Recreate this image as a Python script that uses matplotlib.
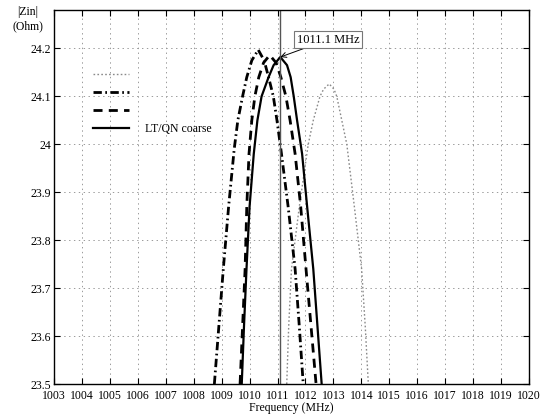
import matplotlib
matplotlib.use("Agg")
import matplotlib.pyplot as plt
from matplotlib.ticker import FuncFormatter

plt.rcParams["font.family"] = ["Liberation Serif", "DejaVu Serif"]
plt.rcParams["font.size"] = 8
plt.rcParams["lines.scale_dashes"] = False

# -------------------------------------------------
# data (frequency MHz, |Zin| Ohm)
# -------------------------------------------------
f_dot = [1011.33, 1011.4, 1011.5, 1011.78, 1012.1, 1012.28, 1012.52, 1012.65, 1012.85,
         1013.02, 1013.12, 1013.3, 1013.48, 1013.75, 1014.01, 1014.14, 1014.25]
z_dot = [23.5, 23.62, 23.74, 23.87, 24.0, 24.05, 24.1, 24.115, 24.126,
         24.115, 24.1, 24.05, 24.0, 23.87, 23.74, 23.62, 23.5]

f_dashdot = [1008.74, 1008.9, 1009.06, 1009.25, 1009.45, 1009.58, 1009.75, 1009.9, 1010.08, 1010.31,
             1010.52, 1010.68, 1010.85, 1010.98, 1011.12, 1011.38, 1011.63, 1011.78, 1011.92]
z_dashdot = [23.5, 23.62, 23.74, 23.87, 23.99, 24.05, 24.1, 24.14, 24.175, 24.197,
             24.175, 24.14, 24.1, 24.05, 23.99, 23.87, 23.74, 23.62, 23.5]

f_dash = [1009.66, 1009.75, 1009.84, 1009.9, 1009.98, 1010.08, 1010.19, 1010.33, 1010.5, 1010.72,
          1010.95, 1011.12, 1011.3, 1011.45, 1011.63, 1011.83, 1012.02, 1012.2, 1012.38]
z_dash = [23.5, 23.62, 23.74, 23.87, 23.98, 24.05, 24.1, 24.14, 24.17, 24.186,
          24.17, 24.14, 24.1, 24.05, 23.98, 23.87, 23.74, 23.62, 23.5]

f_lt = [1009.72, 1009.8, 1009.89, 1010.0, 1010.15, 1010.28, 1010.43, 1010.68, 1010.86, 1011.1,
        1011.34, 1011.47, 1011.58, 1011.7, 1011.88, 1012.06, 1012.28, 1012.43, 1012.58]
z_lt = [23.5, 23.62, 23.74, 23.87, 23.98, 24.05, 24.1, 24.14, 24.165, 24.182,
        24.165, 24.14, 24.1, 24.05, 23.98, 23.87, 23.74, 23.62, 23.5]

f_mark = 1011.1
z_mark = 24.182
mark_text = "1011.1 MHz"

xticks = list(range(1003, 1021))
yticks = [23.5, 23.6, 23.7, 23.8, 23.9, 24.0, 24.1, 24.2]

# -------------------------------------------------
# figure
# -------------------------------------------------
fig = plt.figure(figsize=(5.53, 4.19), dpi=100)
ax = fig.add_axes([0.0976, 0.0835, 0.859, 0.8925])

ax.plot(f_dot, z_dot, color="#8a8a8a", lw=1.0, dashes=(1.2, 1.6), label=" ")
ax.plot(f_dashdot, z_dashdot, color="black", lw=2.0, dashes=(6, 2.5, 1.2, 2.5), label=" ")
ax.plot(f_dash, z_dash, color="black", lw=2.0, dashes=(6.5, 4.5), label=" ")
ax.plot(f_lt, z_lt, color="black", lw=1.6, label="LT/QN coarse")

ax.axvline(f_mark, color="#555555", lw=1.0)
ax.annotate(mark_text, xy=(f_mark, z_mark), xytext=(1011.68, 24.218),
            ha="left", va="center", fontsize=9,
            bbox=dict(boxstyle="square,pad=0.2", fc="white", ec="#777777", lw=0.8),
            arrowprops=dict(arrowstyle="->", color="black", lw=0.7, shrinkA=0, shrinkB=0))

ax.set_xlim(1003, 1020)
ax.set_ylim(23.5, 24.28)
ax.set_xticks(xticks)
ax.set_yticks(yticks)
ax.yaxis.set_major_formatter(FuncFormatter(lambda v, p: ("%.1f" % v).rstrip("0").rstrip(".")))
ax.tick_params(direction="in", top=True, right=True, length=4, width=0.8, labelsize=8.5, pad=2)
ax.tick_params(axis="x", pad=4)
ax.grid(True, color="#9a9a9a", lw=0.7, dashes=(1, 2.5))
for s in ax.spines.values():
    s.set_linewidth(1.0)

ax.set_xlabel("Frequency (MHz)", fontsize=8.5, labelpad=0)
fig.text(28 / 553, 1 - 19 / 419, "|Zin|\n(Ohm)", ha="center", va="center", fontsize=8.5, linespacing=1.3)

leg = ax.legend(loc="upper left", bbox_to_anchor=(0.06, 0.87), frameon=False,
                handlelength=3.0, labelspacing=0.5, fontsize=8.5, handletextpad=1.4)

fig.savefig("out.png", dpi=100)
